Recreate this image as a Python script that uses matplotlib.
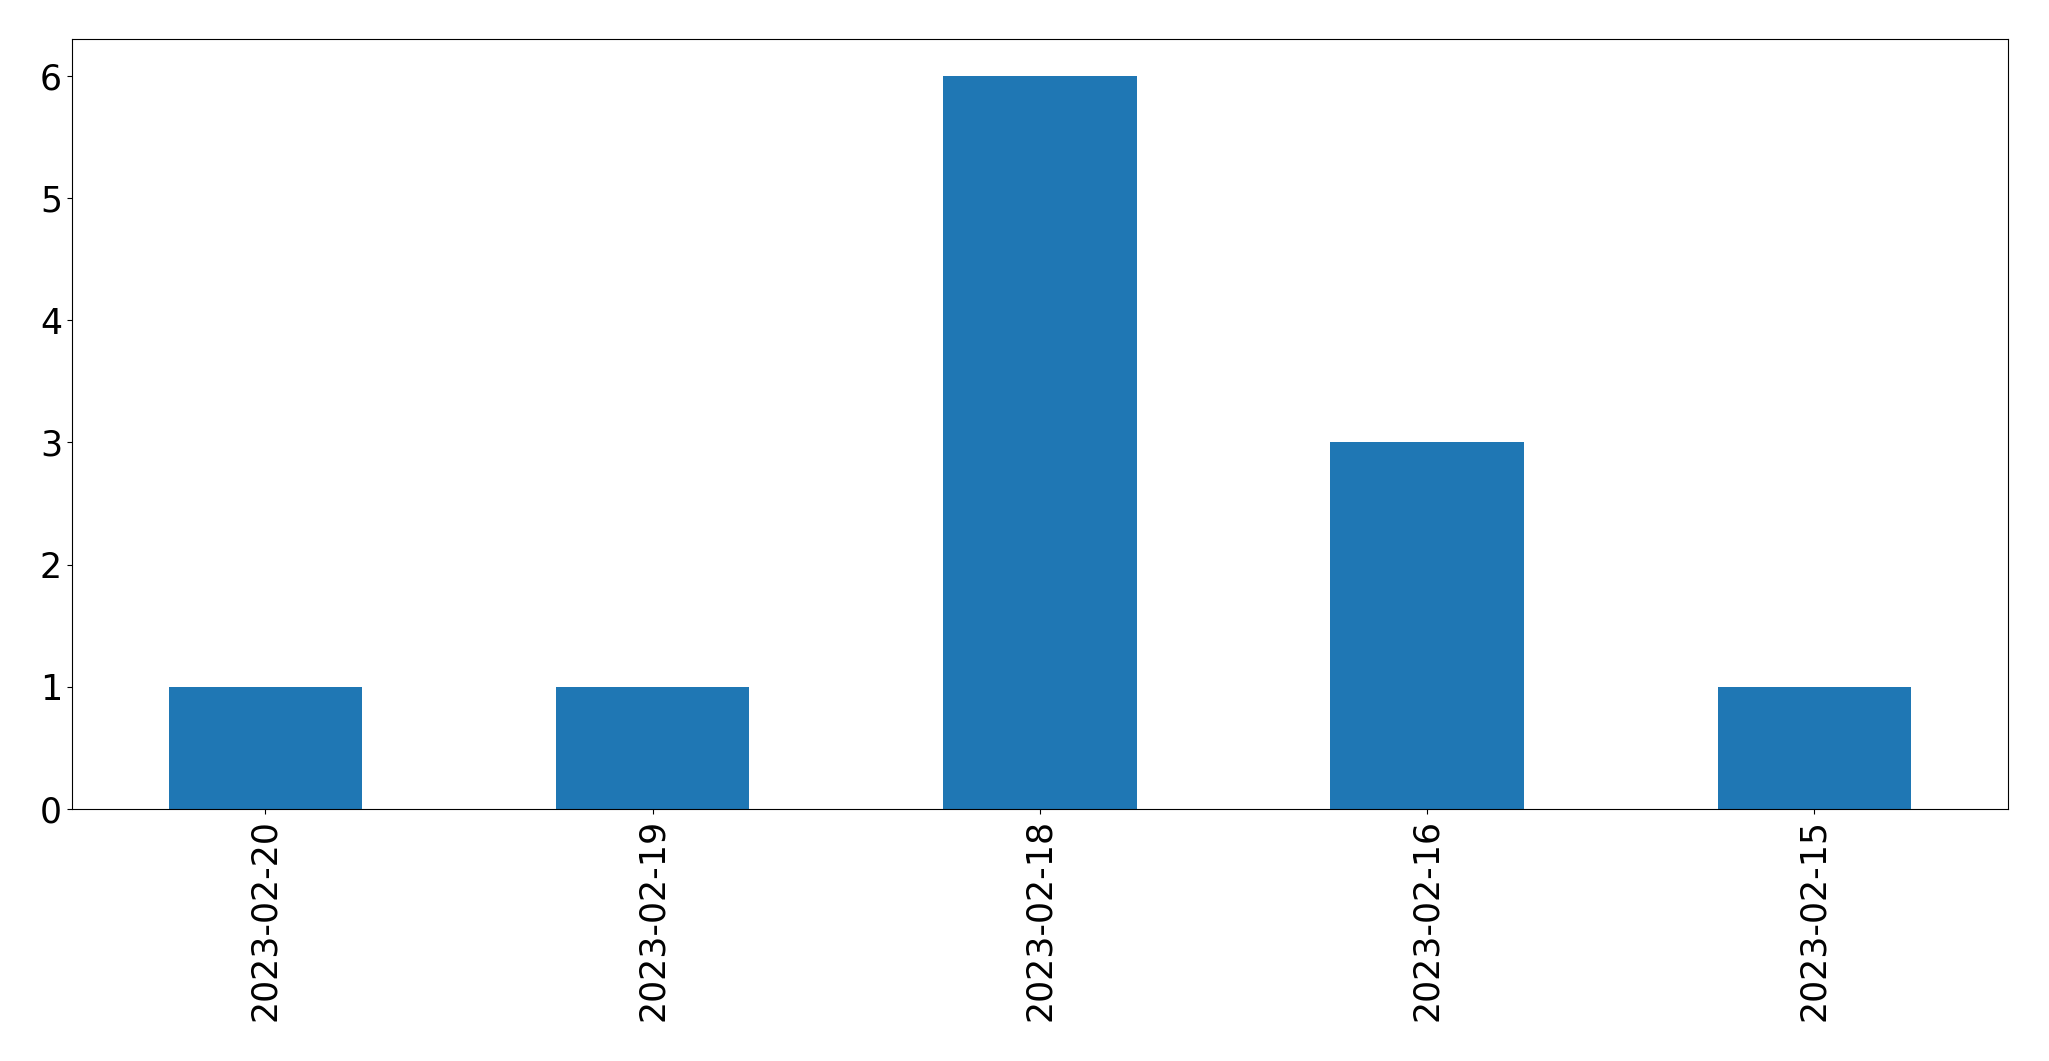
import pandas as pd
import matplotlib
matplotlib.use('Agg')
import matplotlib.pyplot as plt

# Contagem por data
datas = ['2023-02-20', '2023-02-19', '2023-02-18', '2023-02-16', '2023-02-15']
contagens = [1, 1, 6, 3, 1]

serie = pd.Series(contagens, index=datas)

fig, ax = plt.subplots(figsize=(20.49, 10.61), dpi=100)
serie.plot(kind='bar', ax=ax, color='#1f77b4', fontsize=25)
ax.tick_params(axis='both', labelsize=25)
fig.subplots_adjust(left=0.035, right=0.98, top=0.963, bottom=0.2375)
fig.savefig('out.png', dpi=100)
